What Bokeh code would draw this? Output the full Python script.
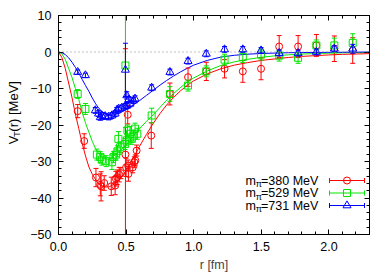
import numpy as np
from bokeh.plotting import figure
from bokeh.layouts import row
from bokeh.models import FixedTicker, LinearAxis, Span, Label, NumeralTickFormatter, CustomJSTickFormatter
from bokeh.embed import file_html
from bokeh.resources import INLINE

FONT = "Liberation Sans"
RED, GREEN, BLUE = "#ff0000", "#00e600", "#0000ff"

# ---------------- data ----------------
legend_labels = ["=380 MeV", "=529 MeV", "=731 MeV"]

r380 = [0.142, 0.19, 0.277, 0.309, 0.315, 0.338, 0.39, 0.419, 0.424, 0.434, 0.449, 0.461,
        0.495, 0.50, 0.512, 0.515, 0.517, 0.549, 0.561, 0.568, 0.578, 0.686, 0.824, 0.958,
        1.093, 1.228, 1.363, 1.498, 1.632, 1.772, 1.907, 2.04, 2.176]
v380 = [-16.2, -24.4, -34.4, -36.4, -36.8, -35.9, -36.8, -36.6, -34.7, -34.3, -33.6, -33.2,
        -28.1, -31.6, -17.2, -31.1, -33.4, -31.6, -30.2, -29.7, -27.0, -22.9, -11.5, -6.9,
        -5.3, -4.6, -5.3, -4.6, 1.5, 1.5, 1.8, 0.9, 0.4]
e380 = [1.8, 2.0, 2.5, 3.0, 4.0, 2.0, 2.5, 2.5, 2.0, 2.0, 2.0, 1.5,
        29.0, 2.5, 2.5, 1.5, 2.0, 1.5, 1.5, 1.5, 1.5, 3.5, 3.0, 2.5,
        2.5, 2.5, 3.0, 3.0, 3.0, 3.0, 3.0, 3.5, 3.5]

r529 = [0.142, 0.199, 0.284, 0.309, 0.321, 0.353, 0.395, 0.407, 0.426, 0.436, 0.443, 0.456,
        0.493, 0.495, 0.505, 0.51, 0.529, 0.542, 0.554, 0.566, 0.583, 0.689, 0.824, 0.958,
        1.093, 1.228, 1.363, 1.498, 1.632, 1.772, 1.907, 2.04, 2.176]
v529 = [-11.5, -15.6, -28.1, -28.8, -29.5, -29.9, -30.2, -28.8, -28.1, -27.2, -23.8, -26.1,
        -25.2, -3.7, -24.2, -21.5, -22.4, -23.8, -22.9, -21.0, -22.4, -17.4, -11.5, -9.2,
        -5.3, -2.1, -1.4, -0.7, -1.0, -1.6, 1.8, 1.8, 2.5]
e529 = [1.2, 1.5, 1.5, 1.5, 1.5, 1.5, 2.0, 1.5, 1.5, 1.5, 2.0, 1.5,
        1.5, 17.0, 1.5, 1.5, 2.0, 1.5, 1.5, 1.5, 1.5, 2.0, 2.0, 1.5,
        1.5, 1.5, 1.5, 1.5, 1.5, 1.5, 1.5, 2.0, 2.5]

r731 = [0.142, 0.199, 0.272, 0.296, 0.309, 0.32, 0.345, 0.37, 0.395, 0.419, 0.431, 0.443,
        0.468, 0.493, 0.495, 0.505, 0.507, 0.52, 0.529, 0.554, 0.566, 0.689, 0.824, 0.958,
        1.093, 1.228, 1.363, 1.498, 1.632, 1.772, 1.907, 2.04, 2.176]
v731 = [-5.5, -6.4, -16.0, -16.9, -17.9, -17.4, -17.6, -17.8, -17.4, -16.9, -16.0, -15.6,
        -15.3, -14.9, -4.9, -11.9, -14.7, -13.0, -14.2, -13.3, -12.8, -9.8, -5.5, -2.5,
        -0.5, 0.7, 0.7, 0.4, -0.3, -0.3, 0.0, 0.9, 0.9]
e731 = [0.6, 0.6, 0.8, 0.8, 0.8, 0.8, 0.8, 0.8, 0.8, 0.8, 0.8, 0.8,
        0.8, 0.8, 7.3, 1.0, 0.8, 0.8, 0.8, 0.8, 0.8, 0.8, 0.8, 0.8,
        0.8, 0.8, 0.8, 0.8, 0.8, 0.8, 0.8, 0.8, 1.2]

# fitted curves
fit_r = [0.0, 0.025, 0.05, 0.075, 0.1, 0.125, 0.15, 0.175, 0.2, 0.225, 0.25, 0.275, 0.3,
         0.325, 0.35, 0.375, 0.4, 0.45, 0.5, 0.55, 0.6, 0.65, 0.7, 0.75, 0.8, 0.85, 0.9,
         0.95, 1.0, 1.1, 1.2, 1.3, 1.4, 1.5, 1.6, 1.7, 1.8, 1.9, 2.0, 2.1, 2.2, 2.3]
fit380 = [0.0, -1.5, -4.5, -8.5, -12.5, -17.0, -21.0, -25.0, -28.5, -31.5, -33.5, -35.0, -36.2,
          -36.8, -37.0, -36.9, -36.5, -35.0, -32.5, -29.2, -25.8, -22.6, -19.6, -16.9, -14.5,
          -12.5, -10.7, -9.2, -7.9, -6.0, -4.6, -3.6, -2.9, -2.3, -1.9, -1.5, -1.2, -1.0, -0.8,
          -0.65, -0.55, -0.45]
fit529 = [0.0, -0.5, -2.0, -4.5, -7.0, -10.0, -13.0, -16.5, -19.5, -22.0, -24.5, -26.5, -28.0,
          -29.0, -29.4, -29.3, -28.8, -27.2, -25.5, -23.2, -21.0, -19.0, -17.2, -15.2, -13.2,
          -11.4, -9.8, -8.3, -7.1, -5.2, -3.7, -2.7, -2.0, -1.45, -1.05, -0.78, -0.57, -0.42,
          -0.31, -0.23, -0.17, -0.12]
fit731 = [0.0, -0.2, -0.7, -1.6, -2.8, -4.2, -5.8, -7.5, -9.2, -10.8, -12.6, -14.2, -15.5,
          -16.4, -17.0, -17.3, -17.3, -16.8, -15.8, -14.6, -13.3, -11.9, -10.5, -9.1, -7.8,
          -6.6, -5.5, -4.5, -3.6, -2.3, -1.4, -0.9, -0.6, -0.4, -0.3, -0.2, -0.15, -0.12,
          -0.1, -0.07, -0.04, 0.0]

x_major = [0.0, 0.5, 1.0, 1.5, 2.0]
x_minor = [round(0.1 * i, 1) for i in range(0, 24)]
y_major = [-50, -40, -30, -20, -10, 0, 10]
y_minor = list(range(-50, 11, 2))

# ---------------- layout ----------------
X0, X1, Y0, Y1 = 0.0, 2.3, -50.0, 10.0
FL, FR, FT, FB = 58, 369, 15, 234          # frame edges in page pixels
W, H = 392, 274
LW = 24                                    # width of the strip holding the y title

# strip with the y-axis title (its frame is the whole strip)
ystrip = figure(width=LW, height=H, x_range=(0, LW), y_range=(0, H),
                output_backend="svg", toolbar_location=None,
                x_axis_type=None, y_axis_type=None,
                min_border_left=0, min_border_right=0, min_border_top=0, min_border_bottom=0)
ystrip.outline_line_color = None
ystrip.xgrid.visible = False
ystrip.ygrid.visible = False
ylx = 12.7
for txt, sx, py, fs in (("V", ylx, 161.0, "13px"),
                        ("T", ylx + 3.6, 152.0, "9.5px"),
                        ("(r) [MeV]", ylx, 145.3, "13px")):
    ystrip.add_layout(Label(x=sx, y=H - py, text=txt, text_font=FONT, text_font_size=fs,
                            angle=np.pi / 2, text_align="left", text_baseline="middle",
                            text_color="black"))

p = figure(width=W - LW, height=H, x_range=(X0, X1), y_range=(Y0, Y1),
           output_backend="svg", toolbar_location=None,
           min_border_left=FL - LW, min_border_right=W - FR, min_border_top=FT, min_border_bottom=H - FB)
p.xgrid.visible = False
p.ygrid.visible = False
p.outline_line_color = "black"
p.outline_line_width = 1
p.background_fill_color = "white"
p.border_fill_color = "white"

# page-pixel helpers for annotation placement inside the frame
def hx(px):
    return X0 + (px - FL) * (X1 - X0) / (FR - FL)

def hy(py):
    return Y1 - (py - FT) * (Y1 - Y0) / (FB - FT)

blank = CustomJSTickFormatter(code="return ''")

def style_axis(ax, major, minor, show_labels):
    ax.ticker = FixedTicker(ticks=major, minor_ticks=minor)
    ax.major_tick_in = 5
    ax.major_tick_out = 0
    ax.minor_tick_in = 3
    ax.minor_tick_out = 0
    ax.axis_line_color = "black"
    ax.major_tick_line_color = "black"
    ax.minor_tick_line_color = "black"
    if show_labels:
        ax.major_label_text_font = FONT
        ax.major_label_text_font_size = "12.5px"
        ax.major_label_text_color = "black"
        ax.major_label_standoff = 7
    else:
        ax.formatter = blank
        ax.major_label_standoff = 0

style_axis(p.xaxis[0], x_major, x_minor, True)
p.xaxis[0].formatter = NumeralTickFormatter(format="0.0")
p.xaxis[0].axis_label = "r [fm]"
p.xaxis[0].axis_label_text_font = FONT
p.xaxis[0].axis_label_text_font_size = "12.5px"
p.xaxis[0].axis_label_text_font_style = "normal"
p.xaxis[0].axis_label_standoff = 4
style_axis(p.yaxis[0], y_major, y_minor, True)
top = LinearAxis()
style_axis(top, x_major, x_minor, False)
p.add_layout(top, "above")
right = LinearAxis()
style_axis(right, y_major, y_minor, False)
p.add_layout(right, "right")

# zero line
p.add_layout(Span(location=0, dimension="width", line_color="#888888",
                  line_dash="1 3", line_width=1))

# fits
for ys, c in ((fit380, RED), (fit529, GREEN), (fit731, BLUE)):
    p.line(fit_r, ys, line_color=c, line_width=1)

# data with error bars
def series(r, v, e, c, marker, size):
    r = np.array(r); v = np.array(v); e = np.array(e)
    p.segment(r, v - e, r, v + e, line_color=c, line_width=1)
    p.scatter(r, v - e, marker="dash", size=5, line_color=c, line_width=1)
    p.scatter(r, v + e, marker="dash", size=5, line_color=c, line_width=1)
    p.scatter(r, v, marker=marker, size=size, line_color=c, fill_color=None, line_width=1)

series(r380, v380, e380, RED, "circle", 7)
series(r529, v529, e529, GREEN, "square", 7)
series(r731, v731, e731, BLUE, "triangle", 8)

# legend (manual, to allow the pi subscript)
rows = [180, 192.5, 205]
markers = [("circle", 7, RED), ("square", 7, GREEN), ("triangle", 8, BLUE)]
for lab, py, (mk, sz, c) in zip(legend_labels, rows, markers):
    p.add_layout(Label(x=hx(245), y=hy(py), text="m", text_font=FONT, text_font_size="12.5px",
                       text_align="left", text_baseline="middle", text_color="black"))
    p.add_layout(Label(x=hx(255.2), y=hy(py + 3.5), text="π", text_font=FONT, text_font_size="9px",
                       text_align="left", text_baseline="middle", text_color="black"))
    p.add_layout(Label(x=hx(260.5), y=hy(py), text=lab, text_font=FONT, text_font_size="12.5px",
                       text_align="left", text_baseline="middle", text_color="black"))
    p.segment([hx(329)], [hy(py)], [hx(364)], [hy(py)], line_color=c, line_width=1)
    p.scatter([hx(329), hx(364)], [hy(py), hy(py)], marker="dash", angle=np.pi / 2, size=5,
              line_color=c, line_width=1)
    p.scatter([hx(346.5)], [hy(py)], marker=mk, size=sz, line_color=c, fill_color=None, line_width=1)

layout = row(ystrip, p)
open("out.html", "w").write(file_html(layout, INLINE))
